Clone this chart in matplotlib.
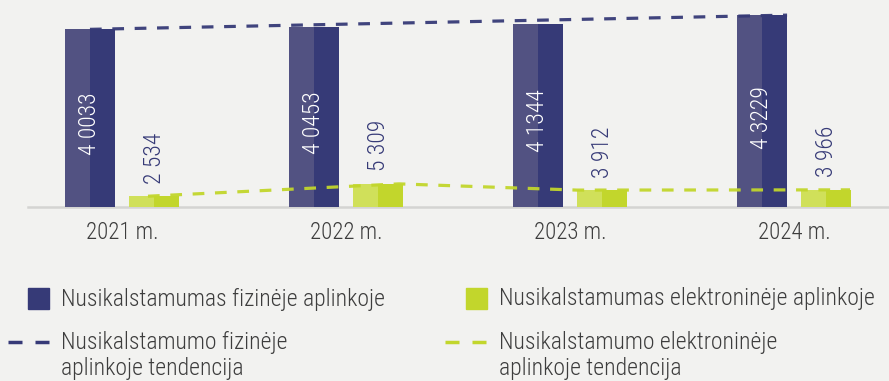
import matplotlib
matplotlib.use("Agg")
import matplotlib.pyplot as plt
from matplotlib.lines import Line2D
from matplotlib.patches import Rectangle

plt.rcParams["font.family"] = ["Roboto Condensed", "DejaVu Sans"]
plt.rcParams["font.stretch"] = "condensed"
plt.rcParams["font.weight"] = "light"

years = ["2021 m.", "2022 m.", "2023 m.", "2024 m."]
fizine = [40033, 40453, 41344, 43229]
elektronine = [2534, 5309, 3912, 3966]

# the physical trend is drawn straight from the first to the last year
trend_fizine = [fizine[0], fizine[-1]]
trend_elektronine = elektronine

legend_labels = [
    "Nusikalstamumas fizinėje aplinkoje",
    "Nusikalstamumas elektroninėje aplinkoje",
    "Nusikalstamumo fizinėje\naplinkoje tendencija",
    "Nusikalstamumo elektroninėje\naplinkoje tendencija",
]

BG = "#f2f2f0"
NAVY = "#363a77"
NAVY_LIGHT = "#525282"
LIME = "#c2d62c"
LIME_LIGHT = "#d0e05a"
TEXT = "#3d3d3d"

W, H = 889, 381
fig = plt.figure(figsize=(W / 100, H / 100), dpi=100, facecolor=BG)
ax = fig.add_axes([28 / W, 1 - 207.5 / H, 861 / W, 207.5 / H], facecolor=BG)

bar_w = 0.223
off = 0.143
x = list(range(len(years)))


def two_tone(cx, value, light, dark):
    # each bar is split into a lighter left half and a darker right half
    ax.bar(cx - bar_w / 4, value, bar_w / 2, color=light, zorder=2, linewidth=0)
    ax.bar(cx + bar_w / 4, value, bar_w / 2, color=dark, zorder=2, linewidth=0)


for i in x:
    two_tone(i - off, fizine[i], NAVY_LIGHT, NAVY)
    two_tone(i + off, elektronine[i], LIME_LIGHT, LIME)

    lab_f = f"{fizine[i] // 10000} {fizine[i] % 10000:04d}"
    ax.text(i - off, fizine[i] * 0.47, lab_f, rotation=90, ha="center",
            va="center", color="white", fontsize=17, zorder=4)
    lab_e = f"{elektronine[i] // 1000} {elektronine[i] % 1000:03d}"
    ax.annotate(lab_e, (i + off, elektronine[i]), xytext=(0, 9),
                textcoords="offset points", rotation=90, ha="center",
                va="bottom", color=NAVY, fontsize=17, zorder=4)

dash = (3.67, 3.33)
ax.plot([x[0] - off, x[-1] - 0.031], trend_fizine, color=NAVY, lw=2.3,
        dashes=dash, zorder=3, alpha=0.95)
ax.plot([x[0] + 0.116, x[1] + 0.237, x[2] + 0.031, x[3] + 0.25],
        trend_elektronine, color=LIME, lw=2.3, dashes=dash, zorder=3,
        alpha=0.95)

ax.set_xlim(-0.4196, 3.424)
ax.set_ylim(0, 46630)
ax.set_yticks([])
ax.set_xticks(x, years)
ax.tick_params(axis="x", length=0, pad=10, labelsize=16.5, labelcolor=TEXT)
for side in ["top", "left", "right"]:
    ax.spines[side].set_visible(False)
ax.spines["bottom"].set_color("#d4d4d2")
ax.spines["bottom"].set_linewidth(1.8)
ax.spines["bottom"].set_zorder(1)


def fx(px):
    return px / W


def fy(py):
    return 1 - py / H


# legend, built by hand in two columns
for col_x, color, label in [(28, NAVY, legend_labels[0]),
                             (466, LIME, legend_labels[1])]:
    fig.patches.append(Rectangle((fx(col_x), fy(309)), 21 / W, 21 / H,
                                 transform=fig.transFigure, color=color))
    fig.text(fx(col_x + 33), fy(299), label, fontsize=17, color=TEXT,
             va="center", ha="left")

for col_x, color, label in [(8, NAVY, legend_labels[2]),
                             (445, LIME, legend_labels[3])]:
    for seg in (0, 27):
        fig.lines.append(Line2D([fx(col_x + seg), fx(col_x + seg + 14)],
                                [fy(342), fy(342)], color=color, lw=2.5,
                                solid_capstyle="butt",
                                transform=fig.transFigure))
    first, second = label.split("\n")
    tx = fx(col_x + 53 if col_x == 8 else col_x + 54)
    fig.text(tx, fy(342), first, fontsize=17, color=TEXT, va="center")
    fig.text(tx, fy(368), second, fontsize=17, color=TEXT, va="center")

fig.savefig("out.png", dpi=100, facecolor=BG)
